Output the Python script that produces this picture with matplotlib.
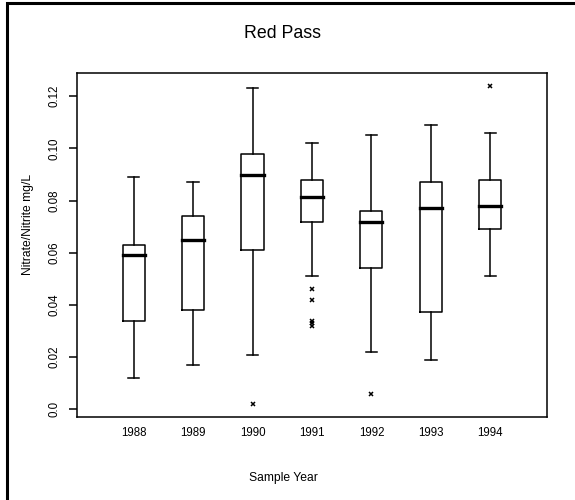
import matplotlib
matplotlib.use("Agg")
import matplotlib.pyplot as plt
from matplotlib.patches import Rectangle

plt.rcParams['font.family'] = ['Liberation Sans', 'DejaVu Sans']

years = ['1988', '1989', '1990', '1991', '1992', '1993', '1994']
whislo = [0.012, 0.017, 0.021, 0.051, 0.022, 0.019, 0.051]
q1 = [0.034, 0.038, 0.061, 0.072, 0.054, 0.0375, 0.069]
med = [0.059, 0.065, 0.090, 0.0815, 0.072, 0.077, 0.078]
q3 = [0.063, 0.074, 0.098, 0.088, 0.076, 0.087, 0.088]
whishi = [0.089, 0.087, 0.123, 0.102, 0.105, 0.109, 0.106]
outliers = [[], [], [0.002], [0.046, 0.042, 0.034, 0.033, 0.032], [0.006], [], [0.124]]
yticks = [0.0, 0.02, 0.04, 0.06, 0.08, 0.10, 0.12]
ytick_labels = ['0.0', '0.02', '0.04', '0.06', '0.08', '0.10', '0.12']

W, H = 575, 500
fig = plt.figure(figsize=(W / 100, H / 100), dpi=100)

# outer frame
fig.patches.append(Rectangle((7 / W, -0.5), 2.0, (H - 3) / H + 0.5, transform=fig.transFigure,
                             fill=False, edgecolor='black', linewidth=2.2))

ax = fig.add_axes([77 / W, (H - 417) / H, 470 / W, 344 / H])

stats = []
for i, y in enumerate(years):
    stats.append(dict(label=y, whislo=whislo[i], q1=q1[i], med=med[i], q3=q3[i],
                      whishi=whishi[i], fliers=outliers[i]))

pos = list(range(1, len(years) + 1))
lw = 1.1
ax.bxp(stats, positions=pos, widths=0.37, capwidths=0.19,
       boxprops=dict(color='black', linewidth=lw),
       medianprops=dict(color='black', linewidth=2.4, solid_capstyle='projecting'),
       whiskerprops=dict(color='black', linewidth=lw, linestyle='-'),
       capprops=dict(color='black', linewidth=lw),
       flierprops=dict(marker='x', markersize=2.8, markeredgecolor='black',
                       markeredgewidth=1.1, linestyle='none'))

ax.set_xlim(0.05, 7.95)
ax.set_ylim(-0.0029, 0.1289)
ax.set_xticks(pos)
ax.set_xticklabels(years, fontsize=8.3)
ax.tick_params(axis='x', length=0, pad=7)
ax.set_yticks(yticks)
ax.set_yticklabels(ytick_labels, fontsize=8.3, rotation=90, va='center')
ax.tick_params(axis='y', direction='out', length=5.8, width=lw, pad=6)
for s in ax.spines.values():
    s.set_linewidth(lw)
    s.set_color('black')

fig.text(283 / W, 1 - 33 / H, 'Red Pass', ha='center', va='center', fontsize=12.8)
fig.text(283 / W, 1 - 478 / H, 'Sample Year', ha='center', va='center', fontsize=8.7)
fig.text(28 / W, 1 - 224 / H, 'Nitrate/Nitrite mg/L', ha='center', va='center',
         fontsize=8.7, rotation=90)

fig.savefig('out.png', dpi=100)
